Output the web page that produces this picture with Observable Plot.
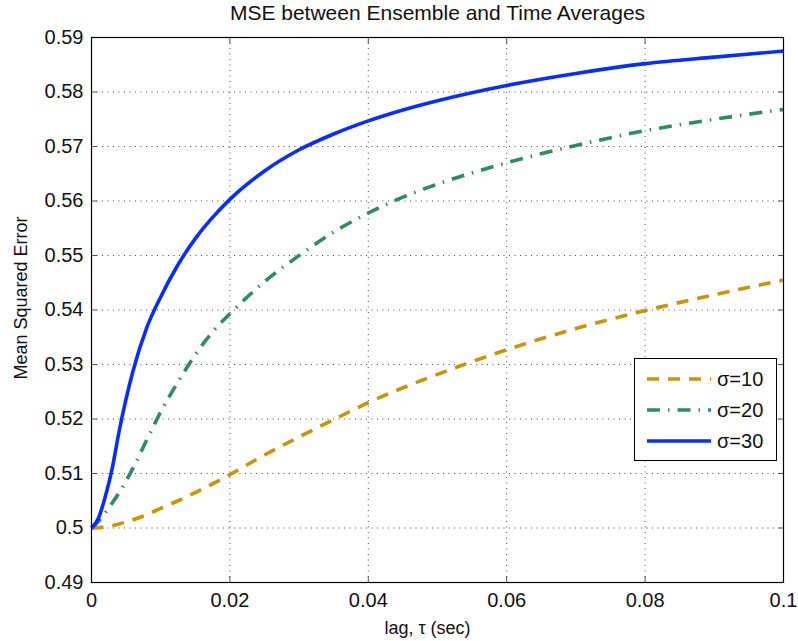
<!DOCTYPE html>
<html><head><meta charset="utf-8">
<script src="https://cdn.jsdelivr.net/npm/d3@7"></script>
<script src="https://cdn.jsdelivr.net/npm/@observablehq/plot@0.6"></script>
<style>
body{margin:0;background:#fff;}
#wrap{position:relative;width:798px;height:641px;font-family:"Liberation Sans",Arial,Helvetica,sans-serif;}
#legend{position:absolute;left:634px;top:358px;width:141px;height:101px;border:1px solid #000;background:#fff;box-sizing:content-box;}
</style></head><body><div id="wrap"></div>
<script>
// lag tau (sec) and mean squared error for each sigma
const tauWide = [0, 0.001, 0.002, 0.003, 0.004, 0.006, 0.008, 0.01, 0.0125, 0.015, 0.0175, 0.02, 0.025, 0.03, 0.035, 0.04, 0.045, 0.05, 0.06, 0.07, 0.08, 0.09, 0.1];
const mseSigma30 = [0.5, 0.5018, 0.5058, 0.5110, 0.5178, 0.5288, 0.5368, 0.5424, 0.5483, 0.5531, 0.5570, 0.5603, 0.5655, 0.5694, 0.5723, 0.5747, 0.5767, 0.5784, 0.5812, 0.5834, 0.5852, 0.5864, 0.5875];
const mseSigma20 = [0.5, 0.5012, 0.5028, 0.5046, 0.5065, 0.5110, 0.5162, 0.5213, 0.5268, 0.5318, 0.5360, 0.5393, 0.5452, 0.5500, 0.5543, 0.5578, 0.5607, 0.5631, 0.5670, 0.5702, 0.5729, 0.5750, 0.5768];
const tauNarrow = [0, 0.0025, 0.005, 0.0075, 0.01, 0.0125, 0.015, 0.0175, 0.02, 0.025, 0.03, 0.035, 0.04, 0.05, 0.06, 0.07, 0.08, 0.09, 0.1];
const mseSigma10 = [0.5, 0.5003, 0.5011, 0.5022, 0.5036, 0.5050, 0.5065, 0.5081, 0.5098, 0.5134, 0.5167, 0.5199, 0.5230, 0.5282, 0.5327, 0.5366, 0.5399, 0.5428, 0.5455];

const seriesNames = ["σ=10", "σ=20", "σ=30"];
const seriesColors = ["#c99405", "#2e8b62", "#0a2dff"];
const seriesDash = ["12,9", "13,8,1.5,8", null];

const xTicks = [0, 0.02, 0.04, 0.06, 0.08, 0.1];
const yTicks = [0.49, 0.5, 0.51, 0.52, 0.53, 0.54, 0.55, 0.56, 0.57, 0.58, 0.59];
const titleText = "MSE between Ensemble and Time Averages";
const xLabel = "lag, τ (sec)";
const yLabel = "Mean Squared Error";

const fmt = d => String(+d.toFixed(2));
const toRows = (t, v, s) => t.map((d, i) => ({tau: d, mse: v[i], s}));
const data = [
  toRows(tauNarrow, mseSigma10, 0),
  toRows(tauWide, mseSigma20, 1),
  toRows(tauWide, mseSigma30, 2)
];

const lineMarks = data.map((rows, i) => Plot.line(rows, {
  x: "tau", y: "mse", stroke: seriesColors[i], strokeWidth: 3.6,
  strokeDasharray: seriesDash[i], curve: "monotone-x", strokeLinecap: "butt"
}));

const chart = Plot.plot({
  width: 798, height: 641,
  marginLeft: 91, marginRight: 15, marginTop: 37, marginBottom: 59,
  style: {fontSize: "20px", fontFamily: "'Liberation Sans', Arial, Helvetica, sans-serif", color: "#000", background: "#fff", overflow: "visible"},
  x: {domain: [0, 0.1]},
  y: {domain: [0.49, 0.59]},
  marks: [
    Plot.gridX(xTicks, {stroke: "#000", strokeOpacity: 0.7, strokeDasharray: "1,4.5"}),
    Plot.gridY(yTicks, {stroke: "#000", strokeOpacity: 0.7, strokeDasharray: "1,4.5"}),
    Plot.axisX(xTicks, {anchor: "bottom", tickSize: 0, tickPadding: 10, tickFormat: fmt, label: null, fontSize: 20, fill: "#111"}),
    Plot.axisY(yTicks, {anchor: "left", tickSize: 0, tickPadding: 8, tickFormat: fmt, label: null, fontSize: 20, fill: "#111"}),
    Plot.axisX(xTicks, {anchor: "bottom", tickSize: -6, text: null, label: null, stroke: "#555"}),
    Plot.axisX(xTicks, {anchor: "top", tickSize: -6, text: null, label: null, stroke: "#555"}),
    Plot.axisY(yTicks, {anchor: "left", tickSize: -6, text: null, label: null, stroke: "#555"}),
    Plot.axisY(yTicks, {anchor: "right", tickSize: -6, text: null, label: null, stroke: "#555"}),
    ...lineMarks,
    Plot.frame({stroke: "#000", strokeWidth: 1.2}),
    Plot.text([titleText], {frameAnchor: "top", dy: -32, fontSize: 21, fill: "#111"}),
    Plot.text([xLabel], {frameAnchor: "bottom", dx: -10, dy: 51, fontSize: 18, fill: "#111"}),
    Plot.text([yLabel], {frameAnchor: "left", textAnchor: "middle", lineAnchor: "middle", dx: -70, dy: -12, rotate: -90, fontSize: 18, fill: "#111"})
  ]
});

const wrap = document.getElementById("wrap");
wrap.appendChild(chart);

// legend box
const legend = d3.select(wrap).append("div").attr("id", "legend");
const lsvg = legend.append("svg").attr("width", 141).attr("height", 101)
  .style("font-family", "'Liberation Sans', Arial, Helvetica, sans-serif");
seriesNames.forEach((name, i) => {
  const cy = 20 + i * 31;
  lsvg.append("line").attr("x1", 12).attr("x2", 76).attr("y1", cy).attr("y2", cy)
    .attr("stroke", seriesColors[i]).attr("stroke-width", 3.6)
    .attr("stroke-dasharray", seriesDash[i]);
  lsvg.append("text").attr("x", 82).attr("y", cy).attr("dy", "0.35em")
    .attr("font-size", 20).attr("fill", "#111").text(name);
});
</script>
</body></html>
